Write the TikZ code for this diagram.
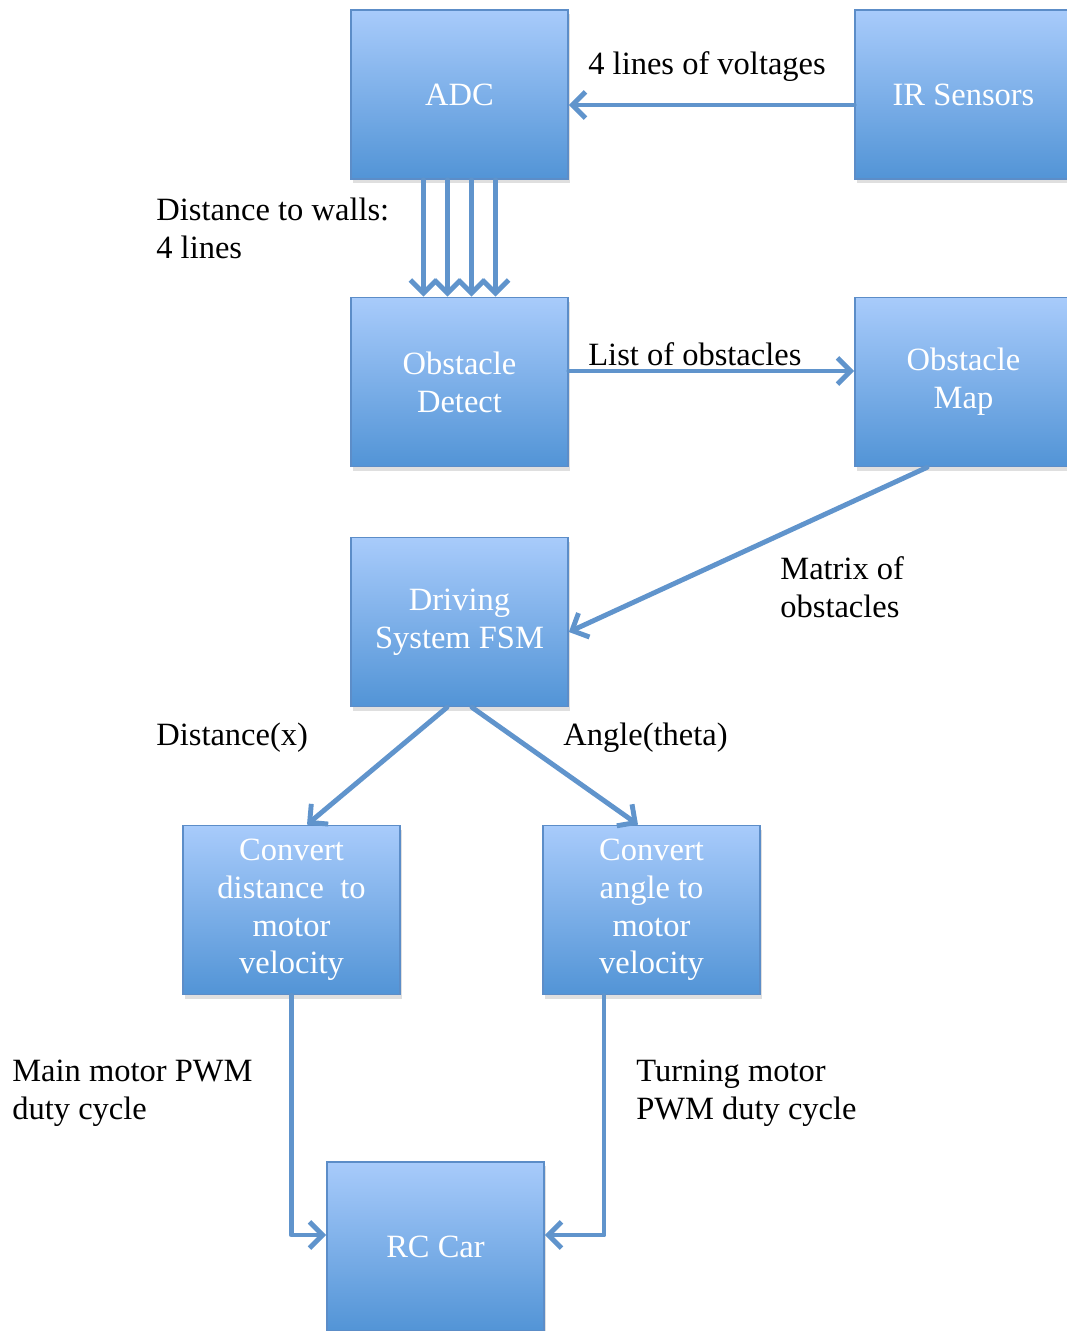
\documentclass[tikz,border=0pt]{standalone}
\usepackage{fontspec}
\setmainfont{Liberation Serif}
\usepackage{tikz}
\usetikzlibrary{arrows.meta,shadows}
\definecolor{boxtop}{RGB}{168,203,251}
\definecolor{boxbottom}{RGB}{82,148,214}
\definecolor{boxline}{RGB}{92,141,200}
\definecolor{flowblue}{RGB}{96,148,204}

\begin{document}
\begin{tikzpicture}[x=0.02cm,y=-0.02cm,
    block/.style={draw=boxline,line width=1pt,
        top color=boxtop,bottom color=boxbottom,
        minimum width=4.34cm,minimum height=3.38cm,inner sep=0pt,
        text=white,align=center,font=\fontsize{18.5}{21.5}\selectfont,
        drop shadow={shadow xshift=1pt,shadow yshift=-2.5pt,opacity=0.25}},
    flow/.style={-{Straight Barb[length=7.5pt,width=15pt]},
        draw=flowblue,line width=2.8pt,line cap=round,line join=round},
    note/.style={anchor=west,inner sep=0pt,align=left,
        font=\fontsize{18.5}{21.5}\selectfont},
    ]
    \useasboundingbox (0,0) rectangle (1067,1331);
    % Blocks
    \node[block] (adc)    at (459.5,94.5)  {ADC};
    \node[block] (ir)     at (963.5,94.5)  {IR Sensors};
    \node[block] (detect) at (459.5,382)   {Obstacle\\Detect};
    \node[block] (map)    at (963.5,382)   {Obstacle\\Map};
    \node[block] (fsm)    at (459.5,622)   {Driving\\System FSM};
    \node[block] (dist)   at (291.5,910)   {Convert\\distance\ \ to\\motor\\velocity};
    \node[block] (angle)  at (651.5,910)   {Convert\\angle to\\motor\\velocity};
    \node[block] (rc)     at (435.5,1246.5) {RC Car};

    % Sensor voltages
    \draw[flow] ([yshift=-0.21cm]ir.west) -- ([yshift=-0.21cm]adc.east);
    \node[note] (volt) at (588,67) {4 lines of voltages};
    % Distance lines
    \foreach \dx in {-0.72,-0.24,0.24,0.72}
        \draw[flow] ([xshift=\dx cm]adc.south) -- ([xshift=\dx cm]detect.north);
    \node[note] (walls) at (156,228) {Distance to walls:\\4 lines};
    % Obstacle list
    \draw[flow] ([yshift=0.22cm]detect.east) -- ([yshift=0.22cm]map.west);
    \node[note] (list) at (588,354) {List of obstacles};
    % Obstacle matrix
    \draw[flow] ([xshift=-0.73cm]map.south) -- ([yshift=-0.2cm]fsm.east);
    \node[note] (matrix) at (780,587) {Matrix of\\obstacles};
    % Distance and angle
    \draw[flow] ([xshift=-0.25cm]fsm.south) -- ([xshift=0.31cm]dist.north);
    \draw[flow] ([xshift=0.25cm]fsm.south) -- ([xshift=-0.27cm]angle.north);
    \node[note] (dx) at (156,738) {Distance(x)};
    \node[note] (theta) at (563,738) {Angle(theta)};
    % PWM duty cycles
    \draw[flow] (dist.south) |- ([yshift=0.23cm]rc.west);
    \draw[flow] ([xshift=-0.95cm]angle.south) |- ([yshift=0.23cm]rc.east);
    \node[note] (main) at (12,1093) {Main motor PWM\\duty cycle};
    \node[note] (turn) at (636,1093) {Turning motor\\PWM duty cycle};
\end{tikzpicture}
\end{document}
